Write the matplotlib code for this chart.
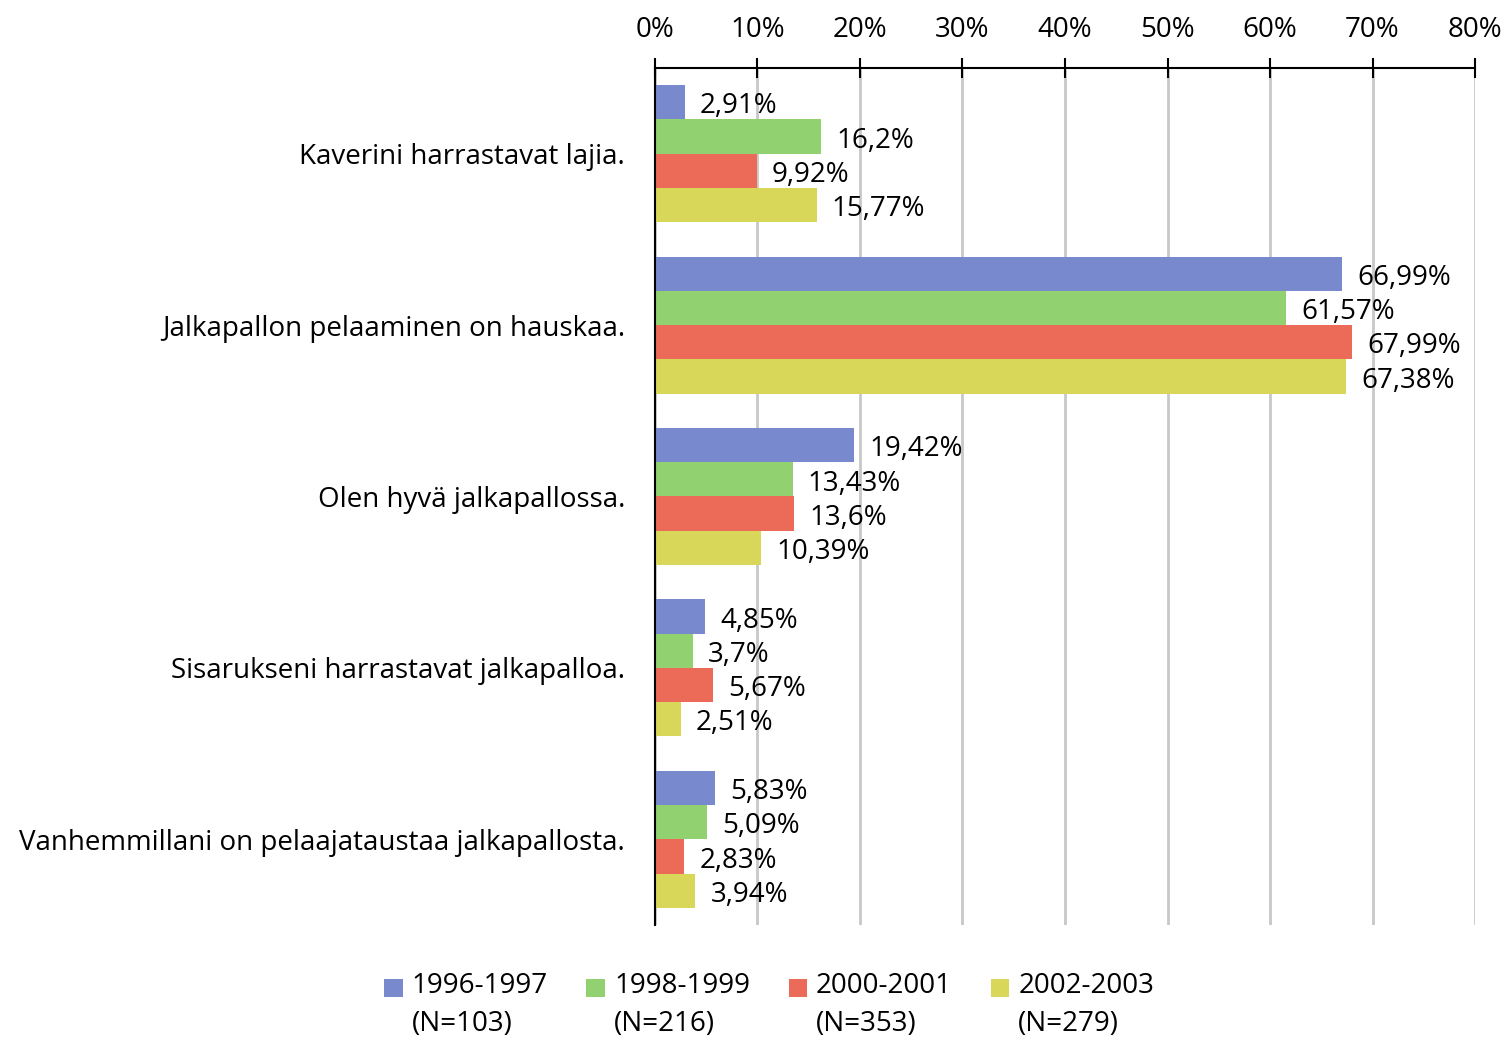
import numpy as np
import matplotlib.pyplot as plt
from matplotlib.patches import Rectangle
from matplotlib.legend_handler import HandlerPatch
from matplotlib.container import BarContainer

# data
categories = ["Kaverini harrastavat lajia.",
              "Jalkapallon pelaaminen on hauskaa.",
              "Olen hyvä jalkapallossa.",
              "Sisarukseni harrastavat jalkapalloa.",
              "Vanhemmillani on pelaajataustaa jalkapallosta."]
series_names = ["1996-1997\n(N=103)", "1998-1999\n(N=216)",
                "2000-2001\n(N=353)", "2002-2003\n(N=279)"]
v_1996 = [2.91, 66.99, 19.42, 4.85, 5.83]
v_1998 = [16.2, 61.57, 13.43, 3.7, 5.09]
v_2000 = [9.92, 67.99, 13.6, 5.67, 2.83]
v_2002 = [15.77, 67.38, 10.39, 2.51, 3.94]
label_1996 = ["2,91%", "66,99%", "19,42%", "4,85%", "5,83%"]
label_1998 = ["16,2%", "61,57%", "13,43%", "3,7%", "5,09%"]
label_2000 = ["9,92%", "67,99%", "13,6%", "5,67%", "2,83%"]
label_2002 = ["15,77%", "67,38%", "10,39%", "2,51%", "3,94%"]
xticks = [0, 10, 20, 30, 40, 50, 60, 70, 80]

colors = ["#7889CD", "#91D170", "#EB6A58", "#D8D75A"]

FS = 20
plt.rcParams['font.family'] = ['Open Sans', 'DejaVu Sans']
plt.rcParams['font.size'] = FS

fig = plt.figure(figsize=(15.07, 10.38), dpi=100)
ax = fig.add_axes([0.4346, 0.1089, 0.5442, 0.8256])

values = [v_1996, v_1998, v_2000, v_2002]
labels = [label_1996, label_1998, label_2000, label_2002]
y = np.arange(len(categories))
h = 0.2
for i in range(4):
    pos = y - 0.3 + i * h
    bars = ax.barh(pos, values[i], height=h, color=colors[i], label=series_names[i], zorder=3)
    anns = ax.bar_label(bars, labels=labels[i], padding=11, fontsize=FS)
    for a in anns:
        a.xyann = (11, -3)

ax.set_ylim(len(categories) - 0.5, -0.5)
ax.set_xlim(0, 80)
ax.set_yticks(y)
ax.set_yticklabels(categories)
ax.tick_params(axis='y', length=0, pad=21.5)
ax.xaxis.tick_top()
ax.set_xticks(xticks)
ax.set_xticklabels([f"{t}%" for t in xticks])
ax.tick_params(axis='x', direction='inout', length=14, width=1.5, pad=10, color='black')
ax.grid(axis='x', color='#C8C8C8', linewidth=2, zorder=0)
for s in ['right', 'bottom']:
    ax.spines[s].set_visible(False)
ax.spines['top'].set_linewidth(1.5)
ax.spines['left'].set_linewidth(1.5)
ax.spines['left'].set_zorder(4)


# legend square sits next to the first text line
def top_square(legend, orig_handle, xdescent, ydescent, width, height, fontsize):
    s = 0.66 * fontsize
    return Rectangle((-xdescent + width - s, -ydescent + height / 2 + 0.32 * fontsize), s, s)


def first_bar(handle, orig):
    handle.update_from(orig.patches[0])


leg = fig.legend(loc='center', bbox_to_anchor=(0.510, 0.0317), ncol=4, frameon=False,
                 handlelength=0.7, handleheight=0.7, handletextpad=0.33, columnspacing=1.35,
                 fontsize=FS,
                 handler_map={BarContainer: HandlerPatch(patch_func=top_square,
                                                         update_func=first_bar)})
for t in leg.get_texts():
    t.set_linespacing(1.5)

fig.savefig("out.png", dpi=100)
